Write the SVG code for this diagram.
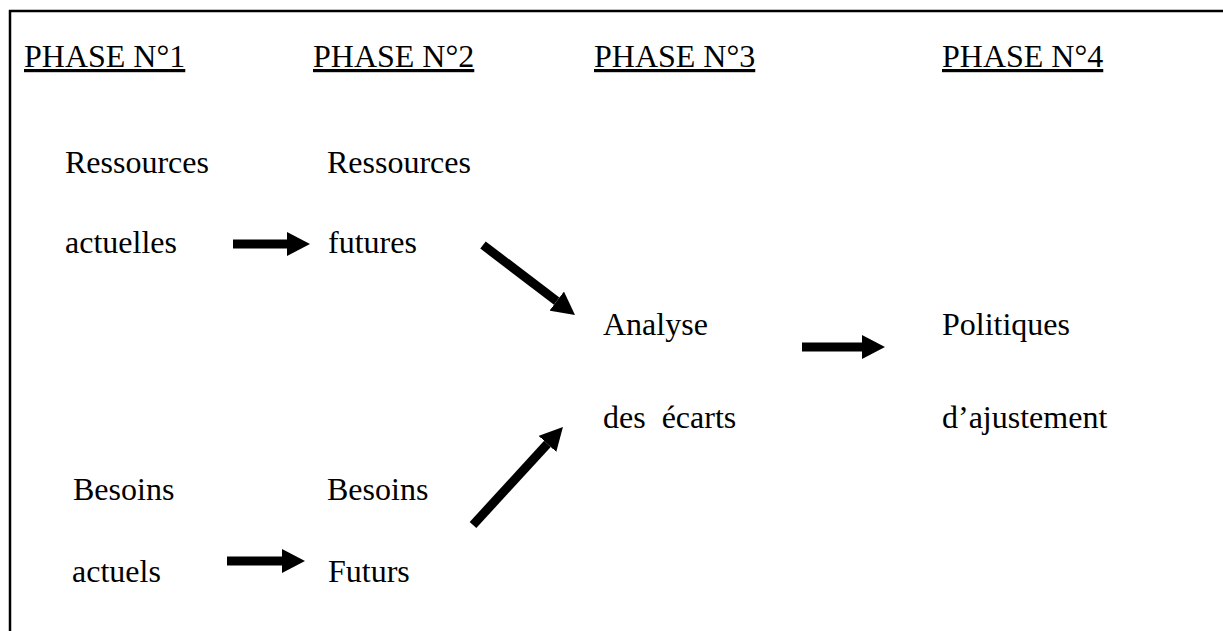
<svg xmlns="http://www.w3.org/2000/svg" width="1223" height="631" viewBox="0 0 1223 631">
<style>
.t{font-family:"Liberation Serif","Times New Roman",serif;font-size:32px;fill:#000}
.h{text-decoration:underline}
.a{stroke:#000;stroke-width:9;fill:none;marker-end:url(#ah)}
</style>
<defs>
<marker id="ah" viewBox="0 0 23 24" refX="0" refY="12" markerWidth="23" markerHeight="24" markerUnits="userSpaceOnUse" orient="auto">
<path d="M0,0 L23,12 L0,24 z" fill="#000"/>
</marker>
</defs>
<rect width="1223" height="631" fill="#fff"/>
<g id="frame" stroke="#000" stroke-width="2.5">
<line x1="9" y1="11" x2="1223" y2="11"/>
<line x1="10" y1="10" x2="10" y2="631"/>
</g>
<g id="phases">
<text class="t h" x="24" y="67">PHASE N°1</text>
<text class="t h" x="313" y="67">PHASE N°2</text>
<text class="t h" x="594" y="67">PHASE N°3</text>
<text class="t h" x="942" y="67">PHASE N°4</text>
</g>
<g id="ressources-actuelles"><text class="t" x="65" y="173">Ressources</text><text class="t" x="65" y="253">actuelles</text></g>
<g id="ressources-futures"><text class="t" x="327" y="173">Ressources</text><text class="t" x="328" y="253">futures</text></g>
<g id="analyse"><text class="t" x="603" y="335">Analyse</text><text class="t" x="603" y="428" xml:space="preserve">des  écarts</text></g>
<g id="politiques"><text class="t" x="942" y="335">Politiques</text><text class="t" x="942" y="428">d’ajustement</text></g>
<g id="besoins-actuels"><text class="t" x="73" y="500">Besoins</text><text class="t" x="72" y="582">actuels</text></g>
<g id="besoins-futurs"><text class="t" x="327" y="500">Besoins</text><text class="t" x="328" y="582">Futurs</text></g>
<g id="connectors">
<line class="a" x1="233" y1="244" x2="287" y2="244"/>
<line class="a" x1="227" y1="561" x2="282" y2="561"/>
<line class="a" x1="802" y1="347" x2="862" y2="347"/>
<line class="a" x1="483" y1="245" x2="556.7" y2="301.1"/>
<line class="a" x1="473" y1="525" x2="547.4" y2="443.9"/>
</g>
</svg>
